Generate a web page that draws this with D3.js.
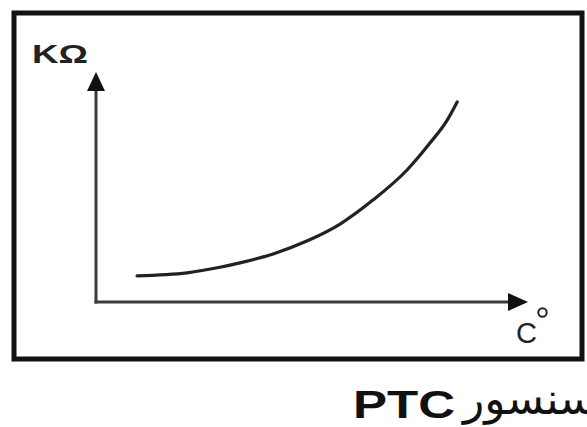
<!DOCTYPE html>
<html><head><meta charset="utf-8">
<script src="https://cdn.jsdelivr.net/npm/d3@7/dist/d3.min.js"></script>
<style>html,body{margin:0;padding:0;background:#fff;overflow:hidden}</style>
</head><body>
<svg id="c" width="587" height="427"></svg>
<script>
// Data (arbitrary units: temperature 0-100, resistance 0-100)
const temperature = [9.5, 21.1, 28.7, 33.3, 41.0, 48.8, 56.5, 64.1, 72.0, 77.3, 81.3, 83.6];
const resistance  = [11.4, 12.7, 15.1, 17.0, 20.9, 26.5, 33.9, 44.3, 57.4, 69.1, 79.1, 87.0];
const yLabel = "KΩ";
const xLabel = "C";
const titleLatin = "PTC";
const titlePersian = "سنسور";

const svg = d3.select("#c");
const x = d3.scaleLinear().domain([0, 100]).range([96, 528]);
const y = d3.scaleLinear().domain([0, 100]).range([302, 72]);

// frame
svg.append("rect").attr("x", 14).attr("y", 13).attr("width", 568).attr("height", 346)
  .attr("fill", "none").attr("stroke", "#111").attr("stroke-width", 5);

const axisColor = "#3a3a3a";
// y axis
svg.append("line").attr("x1", x(0)).attr("x2", x(0)).attr("y1", y(0)+1.5).attr("y2", y(100)+16)
  .attr("stroke", axisColor).attr("stroke-width", 3);
svg.append("path")
  .attr("d", `M${x(0)},${y(100)} L${x(0)-9},${y(100)+19} L${x(0)+9},${y(100)+19} Z`)
  .attr("fill", "#111");
// x axis
svg.append("line").attr("x1", x(0)-1.5).attr("x2", x(100)-16).attr("y1", y(0)).attr("y2", y(0))
  .attr("stroke", axisColor).attr("stroke-width", 3);
svg.append("path")
  .attr("d", `M${x(100)},${y(0)} L${x(100)-20},${y(0)-9} L${x(100)-20},${y(0)+9} Z`)
  .attr("fill", "#111");

// curve
const pts = temperature.map((t, i) => [t, resistance[i]]);
svg.append("path").datum(pts)
  .attr("d", d3.line().x(d => x(d[0])).y(d => y(d[1])).curve(d3.curveMonotoneX))
  .attr("fill", "none").attr("stroke", "#222").attr("stroke-width", 3.2).attr("stroke-linecap", "round");

// labels
svg.append("text").attr("x", 32).attr("y", 63).text(yLabel)
  .attr("font-family", "Liberation Sans, Arial, sans-serif").attr("font-size", 25).attr("font-weight", "bold")
  .attr("textLength", 56).attr("lengthAdjust", "spacingAndGlyphs").attr("fill", "#222");
svg.append("text").attr("x", 516).attr("y", 343).text(xLabel)
  .attr("font-family", "Liberation Sans, Arial, sans-serif").attr("font-size", 29).attr("fill", "#222");
svg.append("circle").attr("cx", 542.5).attr("cy", 312.5).attr("r", 4.2)
  .attr("fill", "none").attr("stroke", "#222").attr("stroke-width", 2);

// title
svg.append("text").attr("x", 353).attr("y", 418).text(titleLatin)
  .attr("font-family", "Liberation Sans, Arial, sans-serif").attr("font-size", 39).attr("font-weight", "bold").attr("fill", "#111")
  .attr("textLength", 102).attr("lengthAdjust", "spacingAndGlyphs");
svg.append("text").attr("x", 463).attr("y", 414).text(titlePersian)
  .attr("font-family", "DejaVu Sans, sans-serif").attr("font-size", 44).attr("fill", "#111")
  .attr("direction", "rtl").attr("text-anchor", "end");
</script>
</body></html>
